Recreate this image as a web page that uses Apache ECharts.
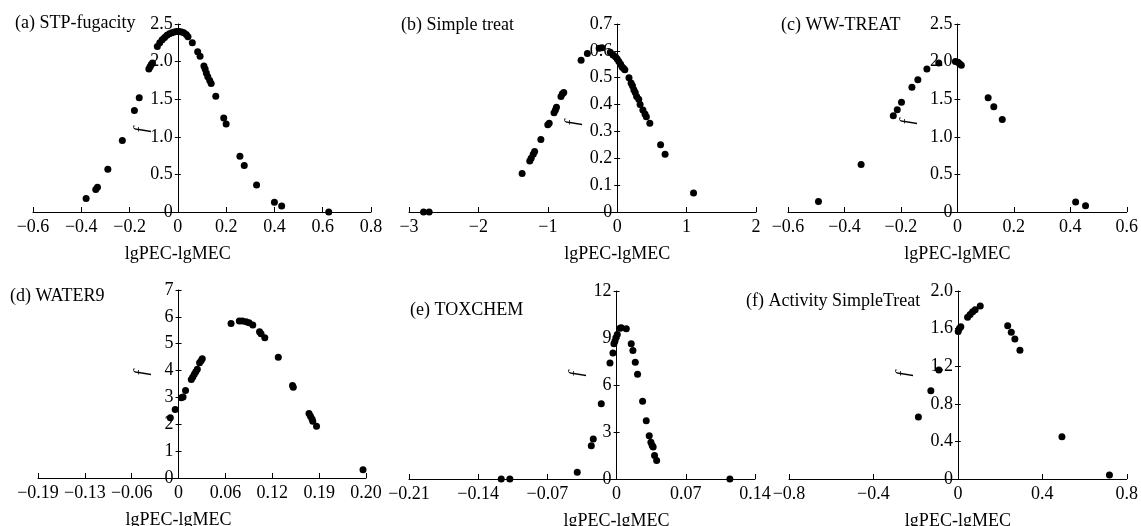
<!DOCTYPE html>
<html>
<head>
<meta charset="utf-8">
<script src="https://cdn.jsdelivr.net/npm/echarts@6/dist/echarts.min.js"></script>
<style>
  html, body { margin: 0; padding: 0; background: #fff; }
  #chart { width: 1141px; height: 526px; }
</style>
</head>
<body>
<div id="chart"></div>
<script>
// panel titles and axis names
const panelTitles = ['(a) STP-fugacity', '(b) Simple treat', '(c) WW-TREAT',
  '(d) WATER9', '(e) TOXCHEM', '(f) Activity SimpleTreat'];
const xName = 'lgPEC-lgMEC';
const yName = 'f';

// points [lgPEC-lgMEC, f]
const stpFugacity = [
  [-0.38, 0.18], [-0.34, 0.30], [-0.333, 0.33], [-0.29, 0.57], [-0.23, 0.95],
  [-0.18, 1.35], [-0.16, 1.52], [-0.12, 1.90], [-0.115, 1.93], [-0.11, 1.96], [-0.105, 1.98],
  [-0.085, 2.20], [-0.075, 2.25], [-0.065, 2.29], [-0.055, 2.32], [-0.045, 2.35],
  [-0.035, 2.37], [-0.025, 2.385], [-0.015, 2.395], [-0.005, 2.40], [0.005, 2.40],
  [0.015, 2.395], [0.025, 2.385], [0.035, 2.36], [0.042, 2.33],
  [0.06, 2.25], [0.082, 2.13], [0.092, 2.07], [0.108, 1.94], [0.113, 1.90], [0.118, 1.85],
  [0.124, 1.80], [0.132, 1.75], [0.138, 1.71], [0.157, 1.54], [0.19, 1.25], [0.20, 1.17],
  [0.257, 0.74], [0.275, 0.62], [0.326, 0.36], [0.40, 0.13], [0.43, 0.08], [0.625, 0.0]
];
const simpleTreat = [
  [-2.79, 0], [-2.71, 0], [-1.37, 0.143], [-1.26, 0.19], [-1.24, 0.20], [-1.21, 0.215],
  [-1.19, 0.225], [-1.10, 0.27], [-1.0, 0.325], [-0.98, 0.33], [-0.91, 0.37], [-0.89, 0.38],
  [-0.875, 0.39], [-0.81, 0.43], [-0.79, 0.44], [-0.77, 0.445], [-0.52, 0.565], [-0.43, 0.59],
  [-0.26, 0.61], [-0.22, 0.612], [-0.10, 0.595], [-0.06, 0.585], [-0.025, 0.578], [0.0, 0.57],
  [0.024, 0.56], [0.05, 0.55], [0.07, 0.54], [0.09, 0.535], [0.11, 0.53], [0.17, 0.50],
  [0.20, 0.48], [0.22, 0.47], [0.24, 0.455], [0.26, 0.445], [0.28, 0.43], [0.31, 0.42],
  [0.33, 0.40], [0.37, 0.38], [0.40, 0.365], [0.42, 0.355], [0.47, 0.33], [0.625, 0.25],
  [0.69, 0.215], [1.10, 0.071]
];
const wwTreat = [
  [-0.492, 0.14], [-0.341, 0.63], [-0.227, 1.28], [-0.213, 1.36], [-0.198, 1.46],
  [-0.161, 1.66], [-0.14, 1.76], [-0.108, 1.90], [-0.066, 1.98], [-0.007, 2.0],
  [0.002, 1.99], [0.008, 1.97], [0.014, 1.95], [0.109, 1.52], [0.129, 1.40],
  [0.159, 1.23], [0.419, 0.133], [0.454, 0.084]
];
const water9 = [
  [-0.011, 2.24], [-0.0045, 2.55], [0.0036, 2.99], [0.006, 3.02], [0.0093, 3.26],
  [0.017, 3.67], [0.019, 3.76], [0.021, 3.86], [0.023, 3.96], [0.025, 4.05], [0.028, 4.29],
  [0.030, 4.37], [0.0316, 4.44], [0.070, 5.75], [0.081, 5.85], [0.085, 5.85], [0.090, 5.82],
  [0.094, 5.78], [0.099, 5.70], [0.108, 5.45], [0.110, 5.37], [0.115, 5.22], [0.133, 4.50],
  [0.152, 3.44], [0.153, 3.38], [0.174, 2.40], [0.176, 2.30], [0.178, 2.20], [0.179, 2.11],
  [0.184, 1.93], [0.246, 0.31]
];
const toxchem = [
  [-0.1167, 0], [-0.108, 0], [-0.0398, 0.43], [-0.0256, 2.12], [-0.0236, 2.56],
  [-0.0155, 4.81], [-0.0067, 7.41], [-0.0037, 8.05], [-0.0027, 8.63], [-0.0017, 8.80],
  [-0.0007, 9.02], [0.0007, 9.23], [0.0034, 9.62], [0.0047, 9.66], [0.0098, 9.59],
  [0.0148, 8.63], [0.0165, 8.20], [0.0189, 7.46], [0.0212, 6.69], [0.0263, 4.96],
  [0.030, 3.72], [0.033, 2.76], [0.0347, 2.35], [0.036, 2.14], [0.037, 2.05],
  [0.0384, 1.50], [0.0405, 1.18], [0.1146, 0]
];
const activitySimpleTreat = [
  [-0.187, 0.66], [-0.128, 0.94], [-0.09, 1.16], [0.0016, 1.57], [0.007, 1.60],
  [0.014, 1.62], [0.046, 1.72], [0.058, 1.75], [0.07, 1.78], [0.082, 1.80], [0.106, 1.84],
  [0.236, 1.63], [0.253, 1.56], [0.27, 1.49], [0.294, 1.37], [0.493, 0.45], [0.718, 0.043]
];

// axis ranges [min, max, step] and tick labels
const xRanges = [[-0.6, 0.8, 0.2], [-3, 2, 1], [-0.6, 0.6, 0.2],
  [-0.1875, 0.25, 0.0625], [-0.21, 0.14, 0.07], [-0.8, 0.8, 0.4]];
const yRanges = [[0, 2.5, 0.5], [0, 0.7, 0.1], [0, 2.5, 0.5],
  [0, 7, 1], [0, 12, 3], [0, 2.0, 0.4]];
const xTickLabels = [
  ['\u22120.6', '\u22120.4', '\u22120.2', '0', '0.2', '0.4', '0.6', '0.8'],
  ['\u22123', '\u22122', '\u22121', '0', '1', '2'],
  ['\u22120.6', '\u22120.4', '\u22120.2', '0', '0.2', '0.4', '0.6'],
  ['\u22120.19', '\u22120.13', '\u22120.06', '0', '0.06', '0.12', '0.19', '0.20'],
  ['\u22120.21', '\u22120.14', '\u22120.07', '0', '0.07', '0.14'],
  ['\u22120.8', '\u22120.4', '0', '0.4', '0.8']
];
const yTickLabels = [
  ['0', '0.5', '1.0', '1.5', '2.0', '2.5'],
  ['0', '0.1', '0.2', '0.3', '0.4', '0.5', '0.6', '0.7'],
  ['0', '0.5', '1.0', '1.5', '2.0', '2.5'],
  ['0', '1', '2', '3', '4', '5', '6', '7'],
  ['0', '3', '6', '9', '12'],
  ['0', '0.4', '0.8', '1.2', '1.6', '2.0']
];

const panelData = [stpFugacity, simpleTreat, wwTreat, water9, toxchem, activitySimpleTreat];

// layout in px
const grids = [
  { left: 33, top: 24, width: 338, height: 188 },
  { left: 409, top: 24, width: 347, height: 188 },
  { left: 788, top: 24, width: 339, height: 188 },
  { left: 38, top: 290, width: 328, height: 188 },
  { left: 409, top: 291, width: 346, height: 188 },
  { left: 789, top: 291, width: 338, height: 188 }
];
const titlePos = [[15, 14], [401, 16], [781, 16], [10, 287], [410, 301], [746, 292]];
const yNameGaps = [27, 35, 40, 27, 30, 45];
// padding [top, right, bottom, left] nudges the rotated "f" off the middle, as in the figure
const yNamePads = [
  [0, 24, 0, 0], [0, 10, 0, 0], [0, 8, 0, 0],
  [0, 0, 0, 22], [0, 0, 0, 22], [0, 0, 0, 22]
];

const font = '"Liberation Serif", "Times New Roman", serif';
const black = '#000';

const tickFormatter = (labels, min, step) => (v) => {
  const i = Math.round((v - min) / step);
  return labels[i] !== undefined ? labels[i] : '';
};

// distance from the grid's left edge to x = 0 on its x scale
const zeroShift = (i) => {
  const r = xRanges[i];
  return grids[i].width * (0 - r[0]) / (r[1] - r[0]);
};

const chart = echarts.init(document.getElementById('chart'));

const option = {
  animation: false,
  backgroundColor: '#fff',
  title: panelTitles.map((t, i) => ({
    text: t,
    left: titlePos[i][0],
    top: titlePos[i][1],
    padding: 0,
    textStyle: { fontFamily: font, fontSize: 18, fontWeight: 'normal', color: black }
  })),
  grid: grids.map(g => Object.assign({ containLabel: false }, g)),
  xAxis: xRanges.map((r, i) => ({
    type: 'value',
    gridIndex: i,
    min: r[0],
    max: r[1],
    interval: r[2],
    axisLine: { onZero: false, lineStyle: { color: black, width: 1 } },
    axisTick: { inside: true, length: 5, lineStyle: { color: black } },
    axisLabel: {
      color: black, fontFamily: font, fontSize: 18, margin: 6,
      formatter: tickFormatter(xTickLabels[i], r[0], r[2])
    },
    splitLine: { show: false }
  })),
  yAxis: [],
  series: []
};

yRanges.forEach((r, i) => {
  const shift = zeroShift(i);
  // main y axis, moved onto x = 0
  option.yAxis.push({
    type: 'value',
    gridIndex: i,
    position: 'left',
    offset: -shift,
    min: r[0],
    max: r[1],
    interval: r[2],
    name: yName,
    nameLocation: 'middle',
    nameGap: yNameGaps[i],
    nameMoveOverlap: false,
    nameTextStyle: {
      fontFamily: font, fontSize: 18, fontStyle: 'italic', color: black,
      padding: yNamePads[i]
    },
    axisLine: { onZero: false, lineStyle: { color: black, width: 1 } },
    axisTick: { length: 3, lineStyle: { color: black } },
    axisLabel: {
      color: black, fontFamily: font, fontSize: 18, margin: 5,
      formatter: tickFormatter(yTickLabels[i], r[0], r[2])
    },
    splitLine: { show: false }
  });
  // twin axis for the right half of the cross ticks
  option.yAxis.push({
    type: 'value',
    gridIndex: i,
    position: 'right',
    offset: -(grids[i].width - shift),
    min: r[0],
    max: r[1],
    interval: r[2],
    axisLine: { show: false, onZero: false },
    axisTick: { length: 3, lineStyle: { color: black } },
    axisLabel: { show: false },
    splitLine: { show: false }
  });
  option.series.push({
    type: 'scatter',
    xAxisIndex: i,
    yAxisIndex: i * 2,
    symbol: 'circle',
    symbolSize: 7,
    itemStyle: { color: black, opacity: 1 },
    data: panelData[i]
  });
});

chart.setOption(option);

// x axis name is centred under the y axis (x = 0)
const names = panelData.map((d, i) => {
  const p = chart.convertToPixel({ gridIndex: i }, [0, 0]);
  return {
    type: 'text',
    x: p[0],
    y: p[1] + 42,
    style: {
      text: xName, fill: black, fontFamily: font, fontSize: 18,
      align: 'center', verticalAlign: 'middle'
    }
  };
});
chart.setOption({ graphic: names });
</script>
</body>
</html>
